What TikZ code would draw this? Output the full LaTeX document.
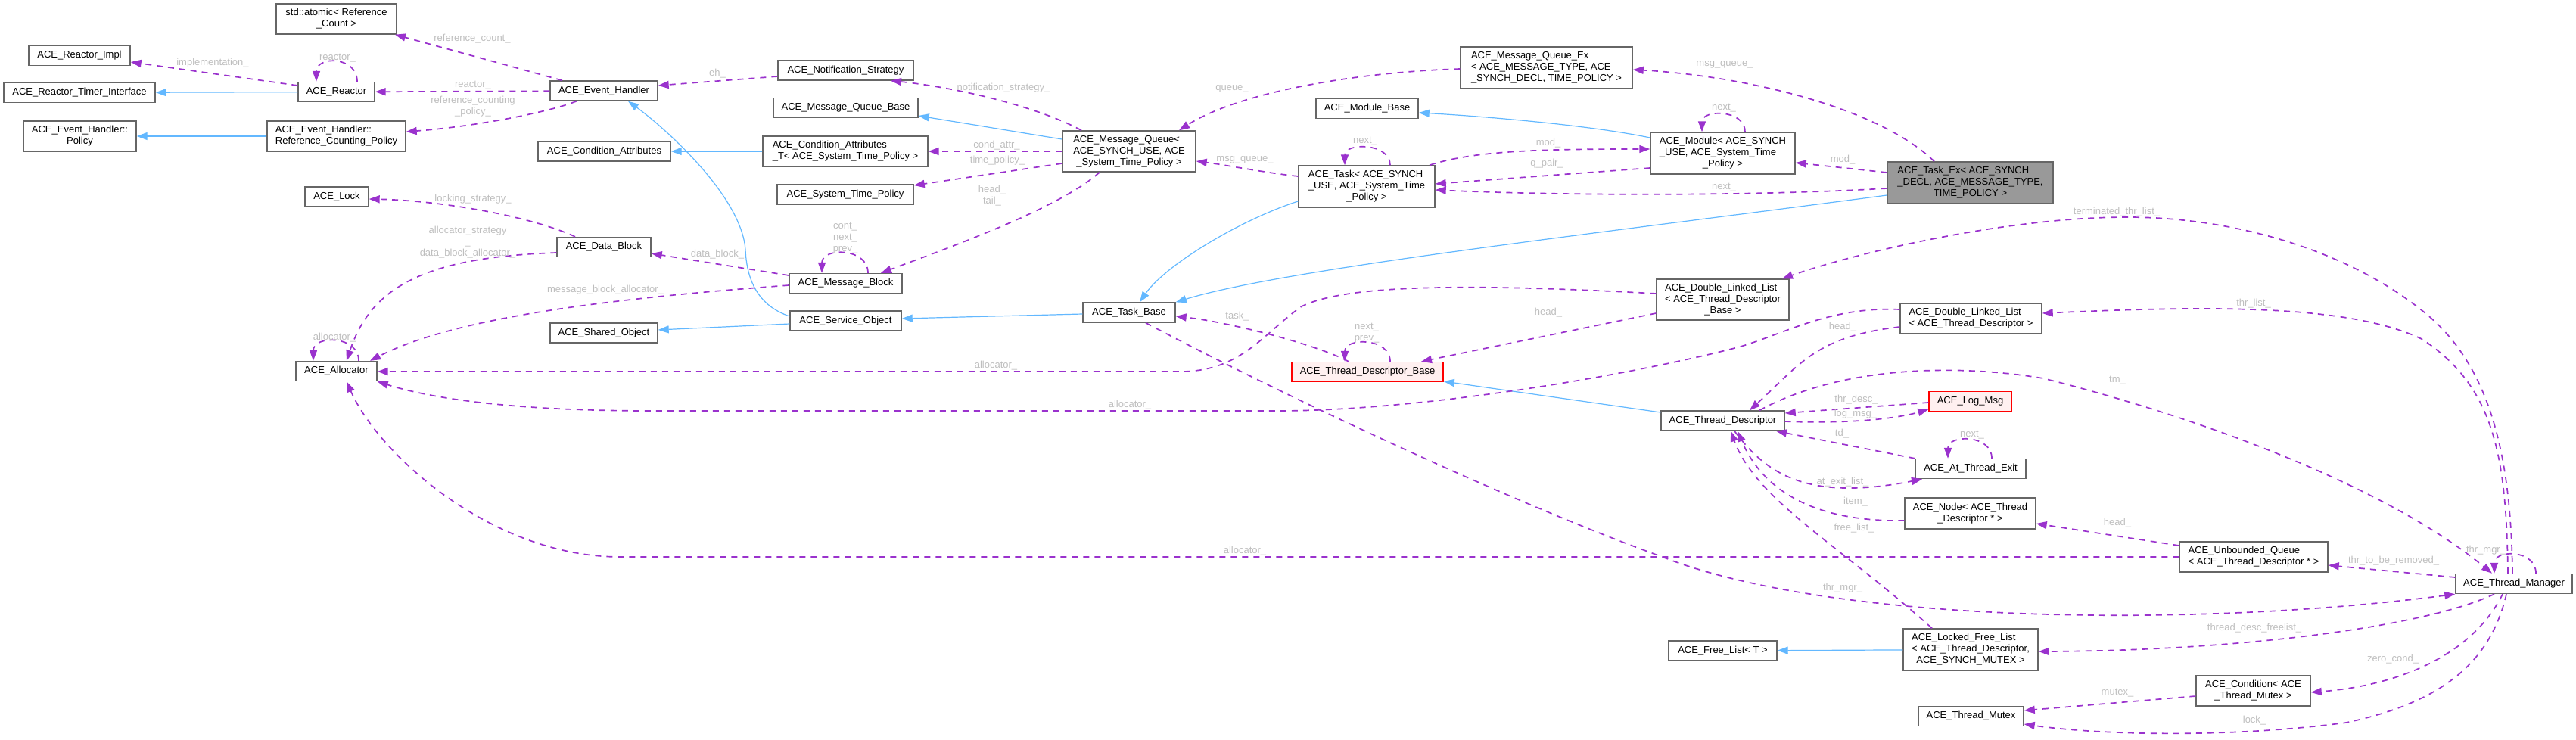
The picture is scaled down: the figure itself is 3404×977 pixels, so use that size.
\documentclass[tikz,border=0pt]{standalone}
\usepackage{fontspec}
\setmainfont{Liberation Sans}
\usetikzlibrary{arrows.meta,positioning}
\definecolor{nodeborder}{HTML}{666666}
\definecolor{curfill}{HTML}{999999}
\definecolor{redfill}{HTML}{FFF0F0}
\definecolor{usecolor}{HTML}{9A32CD}
\definecolor{inhcolor}{HTML}{63B8FF}
\definecolor{lblcolor}{HTML}{BEBEBE}
\newcommand{\lastc}{\hspace*{0pt plus 1fil}}
\tikzstyle{cls}=[draw=nodeborder, fill=white, line width=1.4pt, rectangle, inner sep=2pt, minimum height=26pt, align=left, font=\fontsize{13}{15}\selectfont]
\tikzstyle{clsred}=[cls, draw=red, fill=redfill]
\tikzstyle{clscur}=[cls, fill=curfill]
\tikzstyle{dep}=[->, draw=usecolor, line width=1.7pt, dash pattern=on 8pt off 7pt]
\tikzstyle{inh}=[->, draw=inhcolor, line width=1.2pt]
\tikzstyle{lbl}=[text=lblcolor, inner sep=0pt, align=center, font=\fontsize{13}{15}\selectfont]

\begin{document}
\begin{tikzpicture}[x=1pt, y=-1pt, >={Triangle[length=14pt,width=10pt]}]
\useasboundingbox (0,0) rectangle (3404,977);
% classes
\node[cls, minimum width=159pt, minimum height=40pt] (atomic) at (444.5,25) {std::atomic< Reference\\\lastc\_Count >};
\node[cls, minimum width=134pt] (impl) at (105,73.5) {ACE\_Reactor\_Impl};
\node[cls, minimum width=200pt] (timer) at (105,122.5) {ACE\_Reactor\_Timer\_Interface};
\node[cls, minimum width=101pt] (reactor) at (444.5,121.5) {ACE\_Reactor};
\node[cls, minimum width=149pt, minimum height=40pt] (ehpolicy) at (105.5,180) {ACE\_Event\_Handler::\\\lastc Policy};
\node[cls, minimum width=183pt, minimum height=40pt] (ehrcp) at (444.5,180) {ACE\_Event\_Handler::\\\lastc Reference\_Counting\_Policy};
\node[cls, minimum width=175pt] (condattr) at (798.5,200) {ACE\_Condition\_Attributes};
\node[cls, minimum width=84pt] (lock) at (445,260) {ACE\_Lock};
\node[cls, minimum width=124pt] (datablock) at (798,326.5) {ACE\_Data\_Block};
\node[cls, minimum width=142pt] (eh) at (798,120) {ACE\_Event\_Handler};
\node[cls, minimum width=142pt] (sharedobj) at (798,440) {ACE\_Shared\_Object};
\node[cls, minimum width=107pt] (alloc) at (444.5,490.5) {ACE\_Allocator};
\node[cls, minimum width=179pt] (notif) at (1117.5,93) {ACE\_Notification\_Strategy};
\node[cls, minimum width=191pt] (mqbase) at (1117.5,142.5) {ACE\_Message\_Queue\_Base};
\node[cls, minimum width=218pt, minimum height=40pt] (condattrt) at (1117,200) {ACE\_Condition\_Attributes\\\lastc\_T< ACE\_System\_Time\_Policy >};
\node[cls, minimum width=180pt] (systime) at (1117,257) {ACE\_System\_Time\_Policy};
\node[cls, minimum width=176pt, minimum height=54pt] (mq) at (1492,200) {ACE\_Message\_Queue<\\ACE\_SYNCH\_USE, ACE\\\lastc\_System\_Time\_Policy >};
\node[cls, minimum width=149pt] (msgblock) at (1117.5,374.5) {ACE\_Message\_Block};
\node[cls, minimum width=147pt] (svcobj) at (1117.5,424) {ACE\_Service\_Object};
\node[cls, minimum width=122pt] (taskbase) at (1492,413) {ACE\_Task\_Base};
\node[cls, minimum width=227pt, minimum height=55pt] (mqex) at (2043.5,89.5) {ACE\_Message\_Queue\_Ex\\< ACE\_MESSAGE\_TYPE, ACE\\\lastc\_SYNCH\_DECL, TIME\_POLICY >};
\node[cls, minimum width=135pt] (modbase) at (1806.5,143.5) {ACE\_Module\_Base};
\node[cls, minimum width=191pt, minimum height=55pt] (module) at (2276.5,202.5) {ACE\_Module< ACE\_SYNCH\\\_USE, ACE\_System\_Time\\\lastc\_Policy >};
\node[cls, minimum width=180pt, minimum height=55pt] (task) at (1806,246.5) {ACE\_Task< ACE\_SYNCH\\\_USE, ACE\_System\_Time\\\lastc\_Policy >};
\node[clscur, minimum width=219pt, minimum height=55pt] (taskex) at (2603.5,241.5) {ACE\_Task\_Ex< ACE\_SYNCH\\\_DECL, ACE\_MESSAGE\_TYPE,\\\lastc TIME\_POLICY >};
\node[cls, minimum width=175pt, minimum height=54pt] (dllbase) at (2276.5,396) {ACE\_Double\_Linked\_List\\< ACE\_Thread\_Descriptor\\\lastc\_Base >};
\node[clsred, minimum width=200pt] (tdbase) at (1807,491.5) {ACE\_Thread\_Descriptor\_Base};
\node[cls, minimum width=163pt] (td) at (2276.5,556) {ACE\_Thread\_Descriptor};
\node[cls, minimum width=187pt, minimum height=40pt] (dlltd) at (2604.5,421) {ACE\_Double\_Linked\_List\\\lastc< ACE\_Thread\_Descriptor >};
\node[clsred, minimum width=109pt] (logmsg) at (2603.5,530.5) {ACE\_Log\_Msg};
\node[cls, minimum width=146pt] (atexit) at (2604,619.5) {ACE\_At\_Thread\_Exit};
\node[cls, minimum width=173pt, minimum height=41pt] (tdnode) at (2603.5,678.5) {ACE\_Node< ACE\_Thread\\\lastc\_Descriptor * >};
\node[cls, minimum width=178pt, minimum height=55pt] (lfl) at (2604,858.5) {ACE\_Locked\_Free\_List\\< ACE\_Thread\_Descriptor,\\\lastc ACE\_SYNCH\_MUTEX >};
\node[cls, minimum width=143pt] (freelist) at (2276.5,860) {ACE\_Free\_List< T >};
\node[cls, minimum width=139pt] (mutex) at (2604.5,946.5) {ACE\_Thread\_Mutex};
\node[cls, minimum width=196pt, minimum height=40pt] (uq) at (2978,736) {ACE\_Unbounded\_Queue\\\lastc< ACE\_Thread\_Descriptor * >};
\node[cls, minimum width=154pt] (tm) at (3322,771.5) {ACE\_Thread\_Manager};
\node[cls, minimum width=151pt, minimum height=40pt] (cond) at (2977.5,913) {ACE\_Condition< ACE\\\lastc\_Thread\_Mutex >};

% inheritance
\draw[inh] (reactor) -- (timer);
\draw[inh] (ehrcp) -- (ehpolicy);
\draw[inh] (condattrt) -- (condattr);
\draw[inh] (mq.west |- 0,184) -- (mqbase.east |- 0,153);
\draw[inh] (svcobj.west |- 0,418) .. controls (1005,405) and (987,375) .. (985,330) .. controls (980,260) and (880,170) .. (eh.south -| 830,0);
\draw[inh] (svcobj.west |- 0,428) -- (sharedobj.east |- 0,436);
\draw[inh] (taskbase.west |- 0,415) -- (svcobj.east |- 0,421);
\draw[inh] (task.west |- 0,266) .. controls (1640,290) and (1540,350) .. (taskbase.north -| 1506,0);
\draw[inh] (taskex.west |- 0,258) .. controls (2100,310) and (1700,355) .. (taskbase.north east);
\draw[inh] (module.west |- 0,182) .. controls (2100,165) and (1950,153) .. (modbase.east |- 0,149);
\draw[inh] (td.west |- 0,545) -- (tdbase.east |- 0,504);
\draw[inh] (lfl) -- (freelist);

% members
\draw[dep] (eh.north -| 743,0) -- (atomic.south -| 522,0);
\draw[dep] (reactor.west |- 0,113) -- (impl.east |- 0,82);
\draw[dep] (reactor.north -| 472,0) .. controls +(0,-34) and +(0,-34) .. (reactor.north -| 418,0);
\draw[dep] (eh) -- (reactor);
\draw[dep] (eh.south -| 762,0) .. controls (720,150) and (620,168) .. (ehrcp.east |- 0,174);
\draw[dep] (notif.west |- 0,101) -- (eh.east |- 0,113);
\draw[dep] (mq.north -| 1429,0) .. controls (1370,140) and (1260,115) .. (notif.south -| 1177,0);
\draw[dep] (mq) -- (condattrt);
\draw[dep] (mq.west |- 0,216) -- (systime.east |- 0,245);
\draw[dep] (mq.south -| 1453,0) .. controls (1400,275) and (1260,325) .. (msgblock.north -| 1164,0);
\draw[dep] (msgblock.north -| 1147,0) .. controls +(0,-34) and +(0,-34) .. (msgblock.north -| 1086,0);
\draw[dep] (msgblock.west |- 0,364) -- (datablock.east |- 0,335);
\draw[dep] (datablock.north -| 760,0) .. controls (700,285) and (580,265) .. (lock.east |- 0,263);
\draw[dep] (datablock.west |- 0,334) .. controls (560,340) and (490,380) .. (alloc.north -| 458,0);
\draw[dep] (msgblock.west |- 0,377) .. controls (800,395) and (600,420) .. (alloc.north -| 489,0);
\draw[dep] (alloc.north -| 474,0) .. controls +(0,-34) and +(0,-34) .. (alloc.north -| 414,0);
\draw[dep] (dllbase.west |- 0,388) .. controls (1950,375) and (1780,375) .. (1720,405) .. controls (1670,440) and (1640,491) .. (1560,491) -- (alloc.east |- 0,491);
\draw[dep] (dlltd.west |- 0,409) .. controls (2420,405) and (2360,440) .. (2300,458) .. controls (2200,485) and (1920,540) .. (1700,543) -- (860,543) .. controls (700,543) and (580,530) .. (alloc.south east);
\draw[dep] (dllbase.west |- 0,414) -- (tdbase.north -| 1878,0);
\draw[dep] (dlltd.west |- 0,432) .. controls (2400,445) and (2380,480) .. (td.north -| 2312,0);
\draw[dep] (tdbase.north -| 1837,0) .. controls +(0,-32) and +(0,-32) .. (tdbase.north -| 1777,0);
\draw[dep] (tdbase.north -| 1782,0) .. controls (1740,455) and (1620,425) .. (taskbase.east |- 0,418);
\draw[dep] (taskbase.south -| 1514,0) .. controls (1700,525) and (2000,665) .. (2194,735) .. controls (2420,825) and (2900,830) .. (tm.south west);
\draw[dep] (uq.west) -- (820,736) .. controls (650,736) and (500,600) .. (alloc.south -| 458,0);
\draw[dep] (tm.north -| 3351,0) .. controls +(0,-32) and +(0,-32) .. (tm.north -| 3296,0);
\draw[dep] (tm.north -| 3320,0) .. controls (3318,600) and (3290,480) .. (3200,410) .. controls (3100,330) and (2950,287) .. (2811,287) .. controls (2650,287) and (2450,335) .. (dllbase.north -| 2355,0);
\draw[dep] (tm.north -| 3314,0) .. controls (3312,600) and (3295,510) .. (3200,448) .. controls (3100,400) and (2900,405) .. (dlltd.east |- 0,414);
\draw[dep] (td.north -| 2325,0) .. controls (2430,485) and (2580,480) .. (2700,500) .. controls (2900,550) and (3150,640) .. (tm.north -| 3293,0);
\draw[dep] (td.east |- 0,557) .. controls (2430,560) and (2500,555) .. (logmsg.west |- 0,541);
\draw[dep] (logmsg.west |- 0,532) -- (td.east |- 0,546);
\draw[dep] (atexit.north west) -- (td.south -| 2347,0);
\draw[dep] (td.south -| 2292,0) .. controls (2330,620) and (2380,665) .. (atexit.south -| 2540,0);
\draw[dep] (atexit.north -| 2632,0) .. controls +(0,-32) and +(0,-32) .. (atexit.north -| 2574,0);
\draw[dep] (tdnode.west |- 0,688) .. controls (2400,690) and (2330,650) .. (td.south -| 2296,0);
\draw[dep] (lfl.north -| 2553,0) .. controls (2430,720) and (2320,660) .. (td.south -| 2287,0);
\draw[dep] (uq.west |- 0,721) -- (tdnode.east |- 0,692);
\draw[dep] (tm.west |- 0,763) -- (uq.east |- 0,747);
\draw[dep] (tm.south -| 3296,0) .. controls (3200,830) and (2950,860) .. (lfl.east |- 0,861);
\draw[dep] (tm.south -| 3307,0) .. controls (3270,860) and (3180,905) .. (cond.east |- 0,915);
\draw[dep] (cond.west |- 0,920) -- (mutex.east |- 0,939);
\draw[dep] (tm.south -| 3312,0) .. controls (3290,880) and (3220,930) .. (3100,955) .. controls (2950,975) and (2780,972) .. (mutex.east |- 0,957);
\draw[dep] (task.north -| 1837,0) .. controls +(0,-30) and +(0,-30) .. (task.north -| 1777,0);
\draw[dep] (task.north -| 1889,0) .. controls (1950,198) and (2050,197) .. (module.west |- 0,197);
\draw[dep] (module.west |- 0,222) -- (task.east |- 0,243);
\draw[dep] (taskex.west |- 0,228) -- (module.east |- 0,215);
\draw[dep] (taskex.west |- 0,249) .. controls (2300,260) and (2050,258) .. (task.east |- 0,251);
\draw[dep] (module.north -| 2306,0) .. controls +(0,-30) and +(0,-30) .. (module.north -| 2249,0);
\draw[dep] (task.west |- 0,233) .. controls (1670,228) and (1620,218) .. (mq.east |- 0,213);
\draw[dep] (taskex.north -| 2556,0) .. controls (2480,140) and (2300,100) .. (mqex.east |- 0,92);
\draw[dep] (mqex.west |- 0,91) .. controls (1800,95) and (1640,120) .. (mq.north -| 1558,0);

% member names
\node[lbl] (l-refcount) at (624,51) {reference\_count\_};
\node[lbl] (l-impl) at (281,83) {implementation\_};
\node[lbl] (l-reactorself) at (446,77) {reactor\_};
\node[lbl] (l-reactor) at (625,113) {reactor\_};
\node[lbl] (l-refpolicy) at (625,141) {reference\_counting\\\_policy\_};
\node[lbl] (l-eh) at (948,97) {eh\_};
\node[lbl] (l-notif) at (1326,116) {notification\_strategy\_};
\node[lbl] (l-condattr) at (1317,192) {cond\_attr\_};
\node[lbl] (l-timepol) at (1318,212) {time\_policy\_};
\node[lbl] (l-headtail) at (1311,259) {head\_\\tail\_};
\node[lbl] (l-mbself) at (1117,315) {cont\_\\next\_\\prev\_};
\node[lbl] (l-datablock) at (948,336) {data\_block\_};
\node[lbl] (l-locking) at (625,263) {locking\_strategy\_};
\node[lbl] (l-dballoc) at (618,320) {allocator\_strategy\\\_\\data\_block\_allocator\_};
\node[lbl] (l-mballoc) at (800,383) {message\_block\_allocator\_};
\node[lbl] (l-allocself) at (442,446) {allocator\_};
\node[lbl] (l-dllballoc) at (1316,483) {allocator\_};
\node[lbl] (l-dlltalloc) at (1493,535) {allocator\_};
\node[lbl] (l-uqalloc) at (1645,728) {allocator\_};
\node[lbl] (l-dllbhead) at (2046,413) {head\_};
\node[lbl] (l-dllthead) at (2435,432) {head\_};
\node[lbl] (l-tdbself) at (1806,440) {next\_\\prev\_};
\node[lbl] (l-task) at (1635,418) {task\_};
\node[lbl] (l-thrmgr) at (2435,777) {thr\_mgr\_};
\node[lbl] (l-tmself) at (3285,727) {thr\_mgr\_};
\node[lbl] (l-termlist) at (2797,280) {terminated\_thr\_list\_};
\node[lbl] (l-thrlist) at (2978,401) {thr\_list\_};
\node[lbl] (l-tm) at (2798,503) {tm\_};
\node[lbl] (l-logmsg) at (2452,547) {log\_msg\_};
\node[lbl] (l-thrdesc) at (2453,528) {thr\_desc\_};
\node[lbl] (l-td) at (2434,573) {td\_};
\node[lbl] (l-atexit) at (2435,637) {at\_exit\_list\_};
\node[lbl] (l-ateself) at (2606,575) {next\_};
\node[lbl] (l-item) at (2452,663) {item\_};
\node[lbl] (l-freelist) at (2450,698) {free\_list\_};
\node[lbl] (l-uqhead) at (2798,691) {head\_};
\node[lbl] (l-toremove) at (3163,741) {thr\_to\_be\_removed\_};
\node[lbl] (l-descfree) at (2979,830) {thread\_desc\_freelist\_};
\node[lbl] (l-zerocond) at (3162,871) {zero\_cond\_};
\node[lbl] (l-mutex) at (2798,916) {mutex\_};
\node[lbl] (l-lock) at (2979,952) {lock\_};
\node[lbl] (l-taskself) at (1804,187) {next\_};
\node[lbl] (l-mod) at (2046,189) {mod\_};
\node[lbl] (l-qpair) at (2044,216) {q\_pair\_};
\node[lbl] (l-exmod) at (2435,211) {mod\_};
\node[lbl] (l-exnext) at (2278,248) {next\_};
\node[lbl] (l-modself) at (2278,143) {next\_};
\node[lbl] (l-msgq) at (1645,211) {msg\_queue\_};
\node[lbl] (l-exmsgq) at (2279,85) {msg\_queue\_};
\node[lbl] (l-queue) at (1628,117) {queue\_};
\end{tikzpicture}
\end{document}
